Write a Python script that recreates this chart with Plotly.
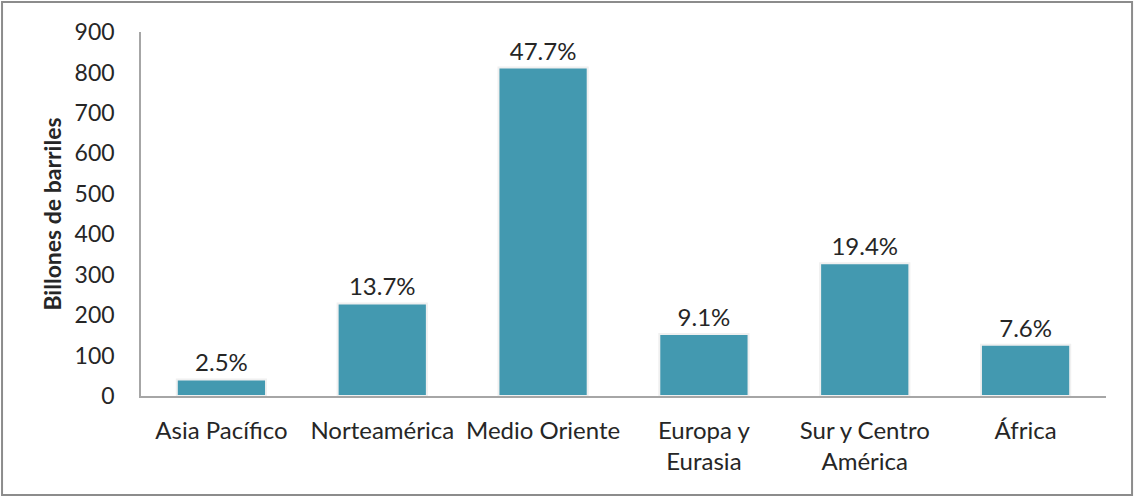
import plotly.graph_objects as go

regiones = ["Asia Pacífico", "Norteamérica", "Medio Oriente",
            "Europa y<br>Eurasia", "Sur y Centro<br>América", "África"]
reservas = [41, 229, 812, 153, 328, 127]
porcentajes = ["2.5%", "13.7%", "47.7%", "9.1%", "19.4%", "7.6%"]

fuente = "Lato, 'Open Sans', sans-serif"

fig = go.Figure(
    go.Bar(
        x=regiones,
        y=reservas,
        text=porcentajes,
        textposition="outside",
        textfont=dict(size=24, color="#262626", family=fuente),
        marker=dict(color="#4399B0", line=dict(color="#f0f0f0", width=2)),
        cliponaxis=False,
    )
)

fig.update_layout(
    width=1134,
    height=497,
    paper_bgcolor="white",
    plot_bgcolor="white",
    margin=dict(l=141, r=28, t=32, b=101),
    bargap=0.445,
    showlegend=False,
    font=dict(family=fuente, size=23, color="#262626"),
    shapes=[
        dict(type="rect", xref="paper", yref="paper",
             x0=-0.144, x1=1.027, y0=-0.272, y1=1.0824,
             line=dict(color="#8c8c8c", width=2), layer="below")
    ],
)

fig.update_xaxes(
    showline=True, linecolor="#a6a6a6", linewidth=1.5,
    showgrid=False, ticks="", tickfont=dict(size=24),
    ticklabelstandoff=12,
)
fig.update_yaxes(
    range=[0, 900], dtick=100,
    showline=True, linecolor="#a6a6a6", linewidth=1.5,
    showgrid=False, zeroline=False, ticks="",
    tickfont=dict(size=23), ticklabelstandoff=20,
    title=dict(text="<b>Billones de barriles</b>", font=dict(size=23), standoff=7),
)

# quitar el margen del body para que la figura quede en (0, 0)
fig.write_html("out.html", config={"displayModeBar": False},
               post_script="document.body.style.margin='0';")
